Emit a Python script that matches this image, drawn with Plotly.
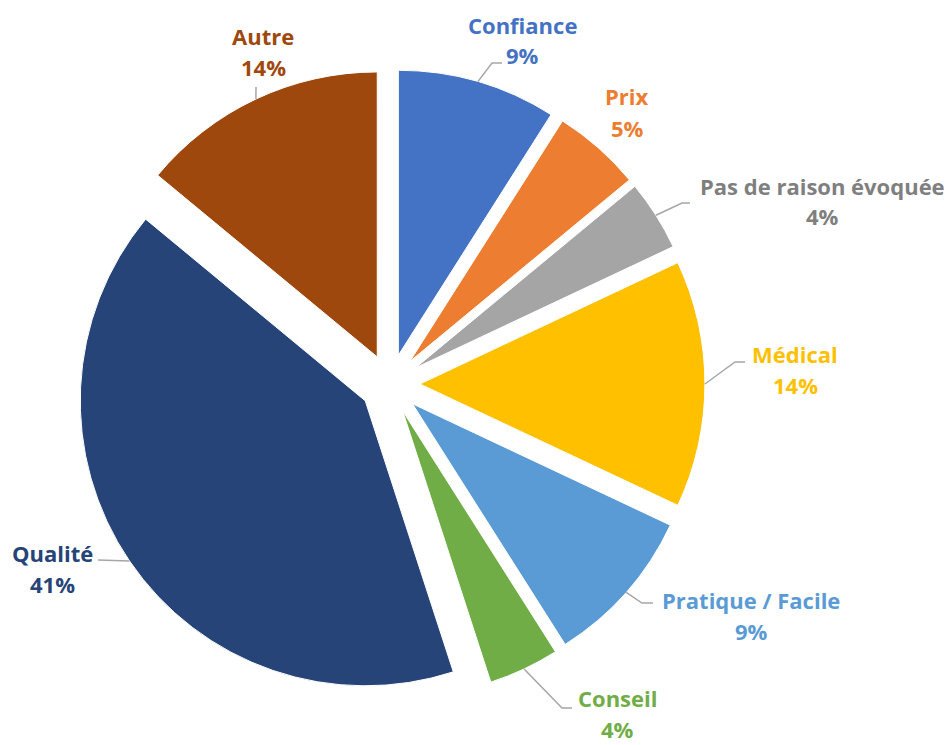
import math
import plotly.graph_objects as go

# ---------- data ---------- #
labels = ["Confiance", "Prix", "Pas de raison évoquée", "Médical",
          "Pratique / Facile", "Conseil", "Qualité", "Autre"]
values = [9, 5, 4, 14, 9, 4, 41, 14]
slice_colors = ["#4472C4", "#ED7D31", "#A5A5A5", "#FFC000",
                "#5B9BD5", "#70AD47", "#264478", "#9E480E"]
text_colors = ["#4472C4", "#ED7D31", "#7F7F7F", "#FFC000",
               "#5B9BD5", "#70AD47", "#264478", "#9E480E"]

# ---------- layout (page pixels) ---------- #
W, H = 952, 745
OFFSET = 8                     # default body margin of the html page
CX, CY, R = 390, 384, 285      # pie centre and radius
PULL = 0.105                   # explode fraction of radius
FONT = "Open Sans"
FONT_SIZE = 22
LINE_GAP = 31

# label block centre (x, y) and end of leader line (x, y, elbow length) or None
label_pos = [(522, 40), (627, 112), (822, 201), (795, 369),
             (751, 615), (617, 713), (52, 568), (263, 51)]
leader_end = [(502, 63, 10), None, (690, 203, 8), (745, 362, 10),
              (653, 603, 11), (572, 708, 10), (98, 560, 0), (256, 87, 0)]

# figure coordinates = page coordinates minus body margin
fcx, fcy = CX - OFFSET, CY - OFFSET
box = 2 * R * (1 + PULL)
dom_x = [(fcx - box / 2) / W, (fcx + box / 2) / W]
dom_y = [1 - (fcy + box / 2) / H, 1 - (fcy - box / 2) / H]

fig = go.Figure(go.Pie(
    labels=labels,
    values=values,
    sort=False,
    direction="clockwise",
    rotation=0,
    pull=[PULL] * len(values),
    marker=dict(colors=slice_colors, line=dict(color="white", width=1)),
    textinfo="none",
    hoverinfo="label+percent",
    showlegend=False,
    domain=dict(x=dom_x, y=dom_y),
))


def px(x, y):
    return (x - OFFSET) / W, 1 - (y - OFFSET) / H


total = sum(values)
cum = 0
annotations = []
shapes = []
for i, v in enumerate(values):
    theta = math.radians(360 * (cum + v / 2) / total)
    cum += v
    ax_ = CX + R * (1 + PULL) * math.sin(theta)
    ay_ = CY - R * (1 + PULL) * math.cos(theta)

    lx, ly = label_pos[i]
    for txt, dy in ((labels[i], -LINE_GAP / 2), (f"{v}%", LINE_GAP / 2)):
        x, y = px(lx, ly + dy)
        annotations.append(dict(
            x=x, y=y, xref="paper", yref="paper",
            text=f"<b>{txt}</b>", showarrow=False,
            xanchor="center", yanchor="middle",
            font=dict(family=FONT, size=FONT_SIZE, color=text_colors[i]),
        ))

    if leader_end[i]:
        ex, ey, elbow = leader_end[i]
        sx, sy = px(ax_, ay_)
        kx, ky = px(ex - elbow, ey)
        tx, ty = px(ex, ey)
        shapes.append(dict(
            type="path", xref="paper", yref="paper",
            path=f"M {sx} {sy} L {kx} {ky} L {tx} {ty}",
            line=dict(color="#A6A6A6", width=1.5),
        ))

fig.update_layout(
    width=W, height=H,
    margin=dict(l=0, r=0, t=0, b=0),
    paper_bgcolor="white",
    plot_bgcolor="white",
    annotations=annotations,
    shapes=shapes,
)

fig.write_html("out.html")
